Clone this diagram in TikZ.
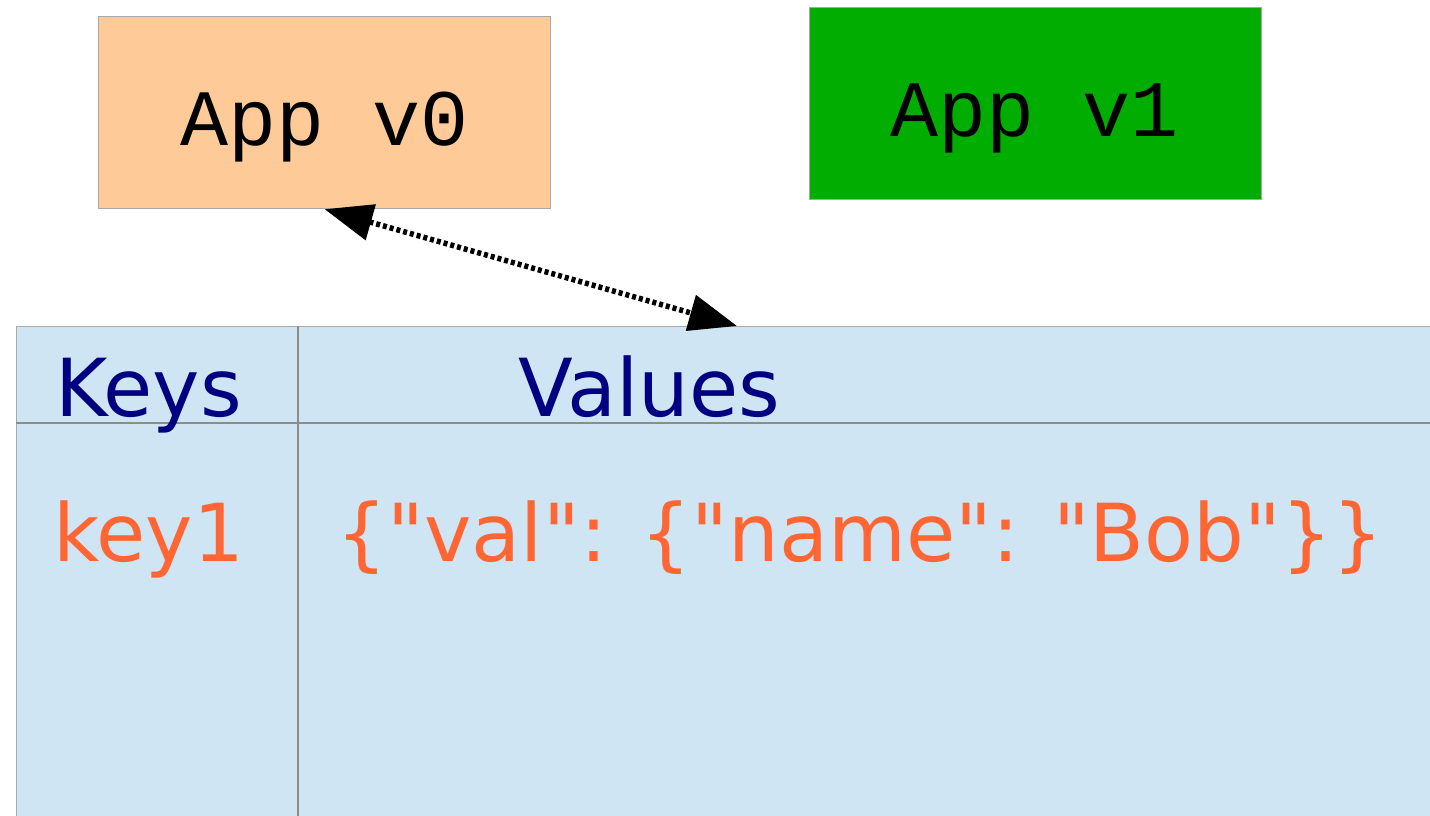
\documentclass[tikz,border=0pt]{standalone}
\usepackage{fontspec}
\setmainfont{DejaVu Sans}
\newfontfamily\plainsans{DejaVu Sans}
\newfontfamily\appmono{Liberation Mono}
\usetikzlibrary{arrows.meta}
\definecolor{peach}{HTML}{FECA98}
\definecolor{appgreen}{HTML}{00AD00}
\definecolor{tablefill}{HTML}{CFE5F3}
\definecolor{boxedge}{HTML}{A8A8A8}
\definecolor{gridline}{HTML}{8C8C8C}
\definecolor{headnavy}{HTML}{000080}
\definecolor{entryorange}{HTML}{FF6633}
\tikzset{
  appbox/.style={draw=boxedge, line width=1.2pt, minimum width=452pt, minimum height=192pt, inner sep=0pt},
  apptext/.style={font=\appmono\fontsize{80}{96}\selectfont, text=black, inner sep=0pt, anchor=base},
  headtext/.style={font=\plainsans\fontsize{80}{96}\selectfont, text=headnavy, inner sep=0pt, anchor=base},
  entrytext/.style={font=\plainsans\fontsize{80}{96}\selectfont, text=entryorange, inner sep=0pt, anchor=base},
  gridrule/.style={draw=gridline, line width=1.2pt},
  link/.style={line width=5.5pt, dash pattern=on 4pt off 3pt,
    {Triangle[length=48pt,width=36pt]}-{Triangle[length=48pt,width=36pt]}}
}
\begin{document}
\begin{tikzpicture}[x=1pt, y=-1pt]
  \useasboundingbox (0,0) rectangle (1430,816);
  \clip (0,0) rectangle (1430,816);

  % application boxes
  \node[appbox, fill=peach, anchor=north west] (v0) at (98,16) {};
  \node[appbox, fill=appgreen, anchor=north west] (v1) at (809,7) {};
  \node[apptext] (v0label) at (324.5,145) {App v0};
  \node[apptext] (v1label) at (1035,136) {App v1};

  % key/value table, running off the right and bottom edges
  \node[draw=boxedge, line width=1.2pt, fill=tablefill, anchor=north west,
        minimum width=1500pt, minimum height=560pt, inner sep=0pt] (table) at (16,326) {};
  \coordinate (coltop) at (298,326);
  \coordinate (colbot) at (298,900);
  \coordinate (rowl) at (16,423);
  \coordinate (rowr) at (1500,423);
  \draw[gridrule] (coltop) -- (colbot);
  \draw[gridrule] (rowl) -- (rowr);

  \node[headtext] (keys) at (148.5,416) {Keys};
  \node[headtext] (values) at (649.5,416) {Values};
  \node[entrytext] (key1) at (148.5,561) {key1};
  \node[entrytext] (val1) at (860,561) {\{"val": \{"name": "Bob"\}\}};

  % App v0 reads the table
  \coordinate (hdr) at (737,326);
  \draw[link] (v0.south) -- (hdr);
\end{tikzpicture}
\end{document}
